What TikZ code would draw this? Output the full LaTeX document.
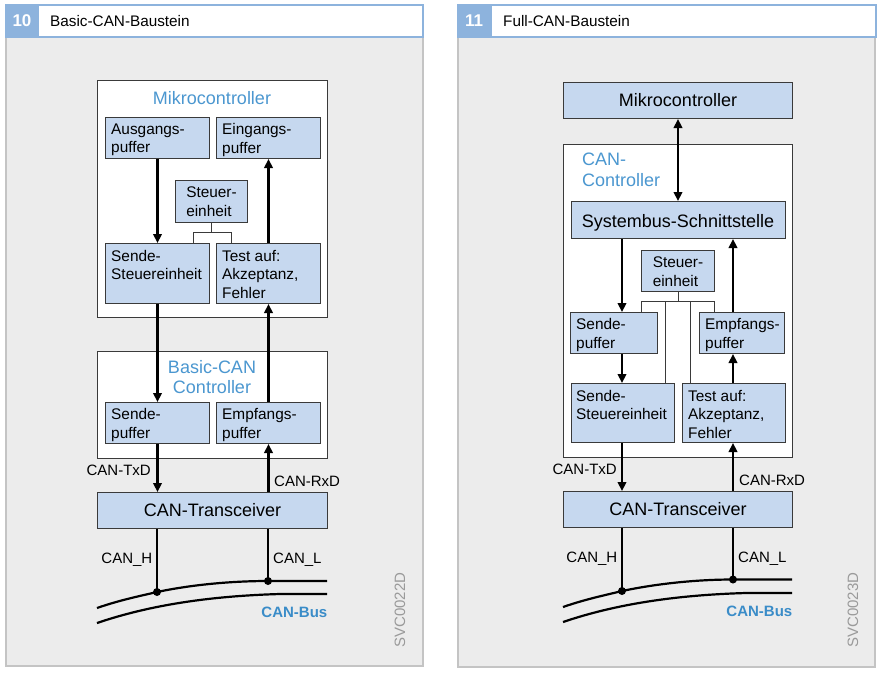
\documentclass[tikz,border=0pt]{standalone}
\usepackage{fontspec}
\setmainfont{Liberation Sans}
\usetikzlibrary{arrows.meta}
\definecolor{boxfill}{HTML}{C6D8EF}
\definecolor{lblue}{HTML}{4B97D0}
\definecolor{busblue}{HTML}{3A8CC8}
\definecolor{panelgray}{HTML}{ECECEC}
\definecolor{panelline}{HTML}{C4C4C4}
\definecolor{headblue}{HTML}{8DB3DD}
\definecolor{edge}{HTML}{3A3A3A}
\definecolor{codegray}{HTML}{9A9A9A}
\begin{document}
\begin{tikzpicture}[x=1pt,y=-1pt,
 blk/.style={draw=edge, line width=1pt, fill=boxfill, inner sep=0, anchor=north west},
 frm/.style={draw=edge, line width=1pt, fill=white, inner sep=0, anchor=north west},
 txt/.style={inner sep=0, anchor=north west, align=left, font=\fontsize{15.4}{18.5}\selectfont},
 big/.style={inner sep=0, font=\fontsize{18}{20}\selectfont},
 sig/.style={inner sep=0, font=\fontsize{15}{18}\selectfont},
 arr/.style={line width=2.2pt, -{Triangle[length=9pt,width=8.5pt]}},
 darr/.style={line width=2.2pt, {Triangle[length=9pt,width=8.5pt]}-{Triangle[length=9pt,width=8.5pt]}},
 thinl/.style={draw=edge, line width=1pt},
 bus/.style={line width=2.2pt},
 dot/.style={circle, fill=black, inner sep=0, minimum size=8pt},
 panel/.style={draw=panelline, line width=2pt, fill=panelgray, inner sep=0, anchor=north west},
 head/.style={draw=headblue, line width=2pt, fill=white, inner sep=0, anchor=north west},
 headnum/.style={fill=headblue, inner sep=0, anchor=north west},
]
\useasboundingbox (0,0) rectangle (883,678);
\fill[white] (0,0) rectangle (883,678);

% ---------------- panels ----------------
\node[panel, minimum width=417, minimum height=629] (p1) at (5,36) {};
\node[head, minimum width=417, minimum height=32] (hd1) at (5,4) {};
\node[headnum, minimum width=34, minimum height=32] (hn1) at (5,4) {};
\node[inner sep=0, anchor=base, text=white, font=\fontsize{17}{20}\selectfont\bfseries] (n10) at (22,26.5) {10};
\node[inner sep=0, anchor=base west, font=\fontsize{15.3}{18}\selectfont] (t10) at (50,26) {Basic-CAN-Baustein};

\node[panel, minimum width=417, minimum height=630] (p2) at (457,36) {};
\node[head, minimum width=418, minimum height=32] (hd2) at (457,4) {};
\node[headnum, minimum width=35, minimum height=32] (hn2) at (457,4) {};
\node[inner sep=0, anchor=base, text=white, font=\fontsize{17}{20}\selectfont\bfseries] (n11) at (474,26.5) {11};
\node[inner sep=0, anchor=base west, font=\fontsize{15.3}{18}\selectfont] (t11) at (503,26) {Full-CAN-Baustein};

% ---------------- left diagram ----------------
\node[frm, minimum width=230, minimum height=237] (mk1) at (97,80) {};
\node[big, anchor=base, text=lblue] (mk1t) at (212,104) {Mikrocontroller};
\node[blk, minimum width=104, minimum height=41] (ausg) at (105,117) {};
\node[txt] (ausgt) at ([xshift=6pt,yshift=-6.5pt]ausg.north west) {Ausgangs-\\puffer};
\node[blk, minimum width=104, minimum height=41] (eing) at (216,117) {};
\node[txt] (eingt) at ([xshift=6pt,yshift=-6.5pt]eing.north west) {Eingangs-\\puffer};
\node[blk, minimum width=72, minimum height=42] (steu1) at (175,180) {};
\node[txt, anchor=north] (steu1t) at ([yshift=-7pt]steu1.north) {Steuer-\\einheit};
\node[blk, minimum width=104, minimum height=60] (sst1) at (105,243) {};
\node[txt] (sst1t) at ([xshift=6pt,yshift=-7pt]sst1.north west) {Sende-\\Steuereinheit};
\node[blk, minimum width=104, minimum height=60] (test1) at (216,243) {};
\node[txt] (test1t) at ([xshift=6pt,yshift=-7pt]test1.north west) {Test auf:\\Akzeptanz,\\Fehler};

\coordinate (k1) at (193,232);
\coordinate (k2) at (231,232);
\draw[thinl] (steu1.south) -- (steu1.south |- k1);
\draw[thinl] (k1 |- sst1.north) -- (k1) -- (k2) -- (k2 |- test1.north);

\node[frm, minimum width=230, minimum height=107] (bcc) at (97,351) {};
\node[big, anchor=north, align=center, text=lblue, font=\fontsize{18}{19.5}\selectfont] (bcct) at (212,360.5) {Basic-CAN\\Controller};
\node[blk, minimum width=104, minimum height=41] (sp1) at (105,402) {};
\node[txt] (sp1t) at ([xshift=6pt,yshift=-6.5pt]sp1.north west) {Sende-\\puffer};
\node[blk, minimum width=104, minimum height=41] (ep1) at (216,402) {};
\node[txt] (ep1t) at ([xshift=6pt,yshift=-6.5pt]ep1.north west) {Empfangs-\\puffer};

\node[blk, minimum width=230, minimum height=36] (tr1) at (97,492) {};
\node[big] (tr1t) at (tr1.center) {CAN-Transceiver};

\draw[arr] (ausg.south) -- (sst1.north -| ausg.south);
\draw[arr] (test1.north) -- (eing.south -| test1.north);
\draw[arr] (sst1.south) -- (sp1.north);
\draw[arr] (ep1.north) -- (test1.south);
\draw[arr] (sp1.south) -- (tr1.north -| sp1.south);
\draw[arr] (tr1.north -| ep1.south) -- (ep1.south);

\node[sig, anchor=base east] (txd1) at (151,475) {CAN-TxD};
\node[sig, anchor=base west] (rxd1) at (274,486) {CAN-RxD};

\coordinate (h1) at (157,592);
\coordinate (l1) at (268,581);
\draw[bus] (97,608) .. controls (120,600) and (140,596) .. (h1) .. controls (190,585) and (230,581) .. (l1) -- (327,581);
\draw[bus] (97,623) .. controls (150,605) and (210,596) .. (280,594) -- (327,594);
\draw[bus] (tr1.south -| h1) -- (h1);
\draw[bus] (tr1.south -| l1) -- (l1);
\node[dot] (d1) at (h1) {};
\node[dot] (d2) at (l1) {};
\node[sig, anchor=base east] (ch1) at (152.5,563) {CAN\_H};
\node[sig, anchor=base west] (cl1) at (273,563) {CAN\_L};
\node[sig, anchor=base east, text=busblue, font=\fontsize{15}{18}\selectfont\bfseries] (cb1) at (327.5,617) {CAN-Bus};
\node[sig, rotate=90, text=codegray] (svc1) at (400,610) {SVC0022D};

% ---------------- right diagram ----------------
\node[blk, minimum width=229, minimum height=36] (mk2) at (563,82) {};
\node[big] (mk2t) at (mk2.center) {Mikrocontroller};
\node[frm, minimum width=229, minimum height=313] (cc) at (563,144) {};
\node[big, anchor=north west, align=left, font=\fontsize{18}{21.7}\selectfont, text=lblue] (cct) at (582,152.3) {CAN-\\Controller};
\node[blk, minimum width=214, minimum height=37] (sys) at (571,201) {};
\node[big, anchor=base] (syst) at (678,227) {Systembus-Schnittstelle};
\draw[darr] (mk2.south) -- (sys.north -| mk2.south);

\node[blk, minimum width=73, minimum height=41] (steu2) at (641,250) {};
\node[txt, anchor=north] (steu2t) at ([yshift=-7pt]steu2.north) {Steuer-\\einheit};
\node[blk, minimum width=87, minimum height=41] (sp2) at (570,312) {};
\node[txt] (sp2t) at ([xshift=6pt,yshift=-6.5pt]sp2.north west) {Sende-\\puffer};
\node[blk, minimum width=85, minimum height=41] (ep2) at (699,312) {};
\node[txt] (ep2t) at ([xshift=6pt,yshift=-6.5pt]ep2.north west) {Empfangs-\\puffer};
\node[blk, minimum width=103, minimum height=59] (sst2) at (571,383) {};
\node[txt] (sst2t) at ([xshift=5pt,yshift=-7pt]sst2.north west) {Sende-\\Steuereinheit};
\node[blk, minimum width=103, minimum height=59] (test2) at (682,383) {};
\node[txt] (test2t) at ([xshift=6pt,yshift=-7pt]test2.north west) {Test auf:\\Akzeptanz,\\Fehler};

\coordinate (m1) at (641,301);
\coordinate (m2) at (665,301);
\coordinate (m3) at (690,301);
\coordinate (m4) at (714,301);
\draw[thinl] (steu2.south) -- (steu2.south |- m1);
\draw[thinl] (m1 |- sp2.north) -- (m1) -- (m4) -- (m4 |- ep2.north);
\draw[thinl] (m2) -- (m2 |- sst2.north);
\draw[thinl] (m3) -- (m3 |- test2.north);

\coordinate (ax2) at (622,0);
\coordinate (bx2) at (733,0);
\draw[arr] (sys.south -| ax2) -- (sp2.north -| ax2);
\draw[arr] (ep2.north -| bx2) -- (sys.south -| bx2);
\draw[arr] (sp2.south -| ax2) -- (sst2.north -| ax2);
\draw[arr] (test2.north -| bx2) -- (ep2.south -| bx2);

\node[blk, minimum width=229, minimum height=36] (tr2) at (563,491) {};
\node[big] (tr2t) at (tr2.center) {CAN-Transceiver};
\draw[arr] (sst2.south -| ax2) -- (tr2.north -| ax2);
\draw[arr] (tr2.north -| bx2) -- (test2.south -| bx2);
\node[sig, anchor=base east] (txd2) at (617,474) {CAN-TxD};
\node[sig, anchor=base west] (rxd2) at (739,485) {CAN-RxD};

\coordinate (h2) at (622,591);
\coordinate (l2) at (733,579.5);
\draw[bus] (563,607) .. controls (586,599) and (606,595) .. (h2) .. controls (655,584) and (695,579.5) .. (l2) -- (792,579.5);
\draw[bus] (563,622) .. controls (616,604) and (676,595) .. (746,593) -- (792,593);
\draw[bus] (tr2.south -| h2) -- (h2);
\draw[bus] (tr2.south -| l2) -- (l2);
\node[dot] (d3) at (h2) {};
\node[dot] (d4) at (l2) {};
\node[sig, anchor=base east] (ch2) at (617.5,562) {CAN\_H};
\node[sig, anchor=base west] (cl2) at (738,562) {CAN\_L};
\node[sig, anchor=base east, text=busblue, font=\fontsize{15}{18}\selectfont\bfseries] (cb2) at (792.5,616.5) {CAN-Bus};
\node[sig, rotate=90, text=codegray] (svc2) at (853,610) {SVC0023D};
\end{tikzpicture}
\end{document}
